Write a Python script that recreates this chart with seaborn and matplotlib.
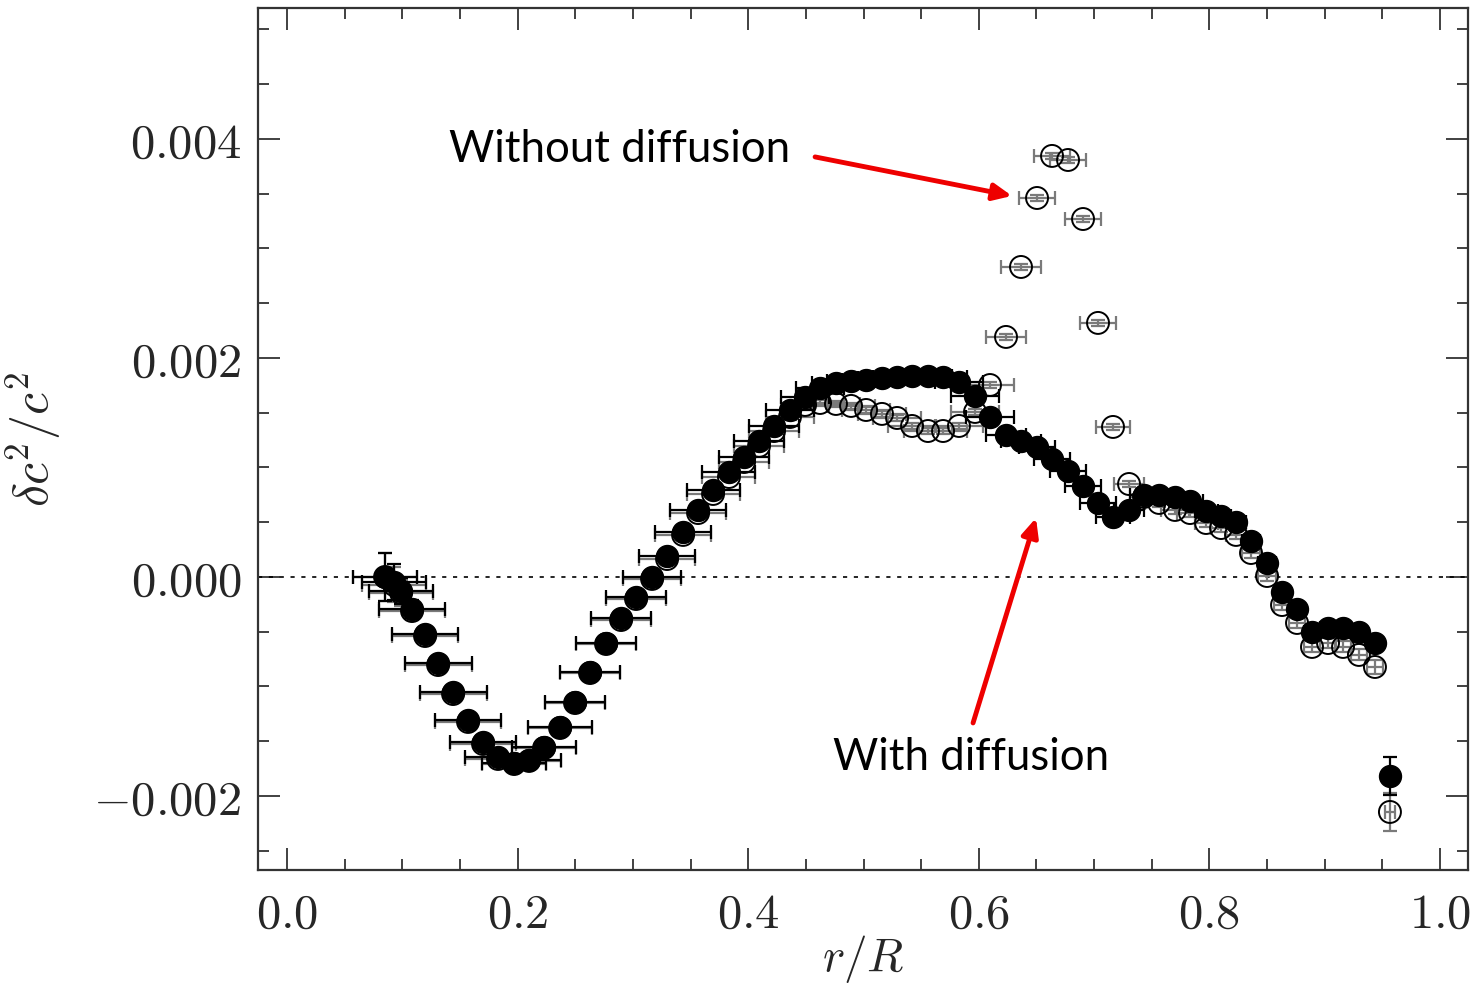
import matplotlib
matplotlib.use("Agg")
import matplotlib.pyplot as plt
import seaborn as sns
import numpy as np
import pandas as pd
from matplotlib.ticker import MultipleLocator, FuncFormatter

# ---------------- data ----------------
r_over_R = [0.0850, 0.0928, 0.0989, 0.1084, 0.1197, 0.1310, 0.1440, 0.1570, 0.1700, 0.1830,
            0.1969, 0.2099, 0.2229, 0.2368, 0.2498, 0.2628, 0.2767, 0.2897, 0.3027, 0.3166,
            0.3296, 0.3435, 0.3565, 0.3695, 0.3833, 0.3964, 0.4094, 0.4224, 0.4362, 0.4493,
            0.4623, 0.4761, 0.4892, 0.5022, 0.5160, 0.5291, 0.5421, 0.5559, 0.5690, 0.5828,
            0.5967, 0.6097, 0.6236, 0.6366, 0.6505, 0.6635, 0.6774, 0.6904, 0.7034, 0.7164,
            0.7303, 0.7433, 0.7563, 0.7702, 0.7832, 0.7971, 0.8101, 0.8231, 0.8361, 0.8500,
            0.8630, 0.8760, 0.8890, 0.9029, 0.9159, 0.9297, 0.9436, 0.9566]

with_diffusion = [0.0, -0.000046, -0.000128, -0.000292, -0.000520, -0.000785, -0.001050, -0.001306,
                  -0.001507, -0.001644, -0.001699, -0.001671, -0.001553, -0.001370, -0.001142,
                  -0.000868, -0.000603, -0.000374, -0.000183, 0.0, 0.000192, 0.000411, 0.000612,
                  0.000795, 0.000959, 0.001096, 0.001242, 0.001379, 0.001525, 0.001644, 0.001726,
                  0.001772, 0.001790, 0.001799, 0.001817, 0.001826, 0.001836, 0.001836, 0.001826,
                  0.001781, 0.001653, 0.001461, 0.001297, 0.001242, 0.001187, 0.001078, 0.000968,
                  0.000831, 0.000676, 0.000548, 0.000612, 0.000749, 0.000749, 0.000731, 0.000694,
                  0.000603, 0.000557, 0.000502, 0.000329, 0.000128, -0.000137, -0.000292,
                  -0.000502, -0.000466, -0.000466, -0.000502, -0.000603, -0.001817]

without_diffusion = [0.0, -0.000073, -0.000146, -0.000311, -0.000539, -0.000804, -0.001069, -0.001324,
                     -0.001525, -0.001662, -0.001708, -0.001680, -0.001562, -0.001379, -0.001151,
                     -0.000877, -0.000612, -0.000393, -0.000201, -0.000018, 0.000164, 0.000384,
                     0.000584, 0.000758, 0.000913, 0.001050, 0.001197, 0.001333, 0.001461, 0.001571,
                     0.001589, 0.001580, 0.001562, 0.001525, 0.001489, 0.001452, 0.001379, 0.001333,
                     0.001333, 0.001379, 0.001507, 0.001753, 0.002192, 0.002831, 0.003461, 0.003845,
                     0.003808, 0.003269, 0.002320, 0.001370, 0.000849, 0.000731, 0.000676, 0.000612,
                     0.000584, 0.000493, 0.000447, 0.000384, 0.000219, 0.000009, -0.000256,
                     -0.000420, -0.000639, -0.000603, -0.000639, -0.000712, -0.000822, -0.002146]

x_err = [0.028, 0.028, 0.028, 0.029, 0.029, 0.029, 0.029, 0.029, 0.029, 0.029,
         0.028, 0.028, 0.028, 0.028, 0.026, 0.026, 0.026, 0.026, 0.026, 0.025,
         0.024, 0.024, 0.024, 0.023, 0.023, 0.022, 0.022, 0.022, 0.021, 0.021,
         0.021, 0.021, 0.021, 0.021, 0.021, 0.021, 0.021, 0.021, 0.021, 0.021,
         0.021, 0.021, 0.017, 0.017, 0.016, 0.016, 0.016, 0.016, 0.016, 0.015,
         0.013, 0.012, 0.012, 0.012, 0.011, 0.010, 0.009, 0.009, 0.008, 0.008,
         0.007, 0.007, 0.007, 0.007, 0.007, 0.007, 0.007, 0.004]

y_err_with = [0.00022, 0.00016, 0.00012, 0.00008, 0.00005, 0.00004, 0.00004, 0.00003, 0.00003, 0.00003,
              0.00003, 0.00003, 0.00003, 0.00003, 0.00003, 0.00003, 0.00003, 0.00003, 0.00003, 0.00003,
              0.00003, 0.00003, 0.00003, 0.00003, 0.00003, 0.00003, 0.00003, 0.00003, 0.00003, 0.00003,
              0.00003, 0.00003, 0.00003, 0.00003, 0.00003, 0.00003, 0.00003, 0.00003, 0.00003, 0.00003,
              0.00003, 0.00003, 0.00003, 0.00003, 0.00003, 0.00003, 0.00003, 0.00003, 0.00003, 0.00003,
              0.00003, 0.00004, 0.00004, 0.00004, 0.00004, 0.00004, 0.00004, 0.00004, 0.00005, 0.00005,
              0.00005, 0.00005, 0.00005, 0.00005, 0.00005, 0.00005, 0.00006, 0.00017]

y_err_without = [0.00022, 0.00016, 0.00012, 0.00008, 0.00005, 0.00004, 0.00004, 0.00003, 0.00003, 0.00003,
                 0.00003, 0.00003, 0.00003, 0.00003, 0.00003, 0.00003, 0.00003, 0.00003, 0.00003, 0.00003,
                 0.00003, 0.00003, 0.00003, 0.00003, 0.00003, 0.00003, 0.00003, 0.00003, 0.00003, 0.00003,
                 0.00003, 0.00003, 0.00003, 0.00003, 0.00003, 0.00003, 0.00003, 0.00003, 0.00003, 0.00003,
                 0.00003, 0.00003, 0.00003, 0.00003, 0.00003, 0.00003, 0.00003, 0.00003, 0.00003, 0.00003,
                 0.00003, 0.00004, 0.00004, 0.00004, 0.00004, 0.00004, 0.00004, 0.00004, 0.00005, 0.00005,
                 0.00005, 0.00005, 0.00005, 0.00005, 0.00005, 0.00005, 0.00006, 0.00017]

x_ticks = [0.0, 0.2, 0.4, 0.6, 0.8, 1.0]
y_ticks = [-0.002, 0.000, 0.002, 0.004]

df = pd.DataFrame({"r": r_over_R, "with": with_diffusion, "without": without_diffusion,
                   "xerr": x_err, "yerr_w": y_err_with, "yerr_wo": y_err_without})

# ---------------- style ----------------
sns.set_style("ticks")
plt.rcParams["mathtext.fontset"] = "cm"
plt.rcParams["font.family"] = ["DejaVu Sans"]

fig = plt.figure(figsize=(14.76, 9.94), dpi=100)
ax = fig.add_axes([258 / 1476, (994 - 870) / 994, (1468 - 258) / 1476, (870 - 8) / 994])

# zero reference line
ax.axhline(0.0, color="black", lw=1.2, ls=(0, (2.5, 4)), zorder=1)

# without diffusion: open symbols
ax.errorbar(df["r"], df["without"], xerr=df["xerr"], yerr=df["yerr_wo"], fmt="none",
            ecolor="#7a7a7a", elinewidth=1.6, capsize=5, capthick=1.6, zorder=3.2)
sns.scatterplot(data=df, x="r", y="without", ax=ax, marker="o", s=250,
                facecolor="none", edgecolor="black", linewidth=1.4, zorder=3.5, legend=False)

# with diffusion: filled symbols
ax.errorbar(df["r"], df["with"], xerr=df["xerr"], yerr=df["yerr_w"], fmt="none",
            ecolor="black", elinewidth=1.6, capsize=5, capthick=1.6, zorder=4)
sns.scatterplot(data=df, x="r", y="with", ax=ax, marker="o", s=250,
                color="black", edgecolor="black", linewidth=1.0, zorder=5, legend=False)

ax.set_xlim(-0.0252, 1.0243)
ax.set_ylim(-0.002676, 0.005196)

ax.set_xticks(x_ticks)
ax.set_yticks(y_ticks)
ax.xaxis.set_minor_locator(MultipleLocator(0.05))
ax.yaxis.set_minor_locator(MultipleLocator(0.0005))
ax.xaxis.set_major_formatter(FuncFormatter(lambda v, p: r"$%.1f$" % v))
ax.yaxis.set_major_formatter(FuncFormatter(lambda v, p: r"$%.3f$" % v if abs(v) > 1e-12 else r"$0.000$"))

ax.tick_params(which="both", direction="in", top=True, right=True, color="#333333", width=1.3)
ax.tick_params(which="major", length=16, labelsize=35)
ax.tick_params(which="minor", length=8)
ax.tick_params(axis="x", which="major", pad=14)
ax.tick_params(axis="y", which="major", pad=12)

for sp in ax.spines.values():
    sp.set_linewidth(1.6)
    sp.set_color("#333333")

ax.set_xlabel(r"$r/R$", fontsize=34, labelpad=-3)
ax.set_ylabel(r"$\delta c^2/c^2$", fontsize=36, labelpad=22)

# annotations
ann_font = ["Lato", "DejaVu Sans"]
ax.text(0.2888, 0.00390, "Without diffusion", fontsize=31.5, family=ann_font,
        color="black", ha="center", va="center", zorder=6)
ax.text(0.593, -0.00165, "With diffusion", fontsize=31.5, family=ann_font,
        color="black", ha="center", va="center", zorder=6)
ax.annotate("", xy=(0.6288, 0.00348), xytext=(0.458, 0.003836),
            arrowprops=dict(arrowstyle="-|>,head_length=1.1,head_width=0.5", color="#ee0000",
                            lw=3.5, shrinkA=0, shrinkB=0), zorder=6)
ax.annotate("", xy=(0.6496, 0.000539), xytext=(0.595, -0.001333),
            arrowprops=dict(arrowstyle="-|>,head_length=1.1,head_width=0.5", color="#ee0000",
                            lw=3.5, shrinkA=0, shrinkB=0), zorder=6)

fig.savefig("out.png", dpi=100)
